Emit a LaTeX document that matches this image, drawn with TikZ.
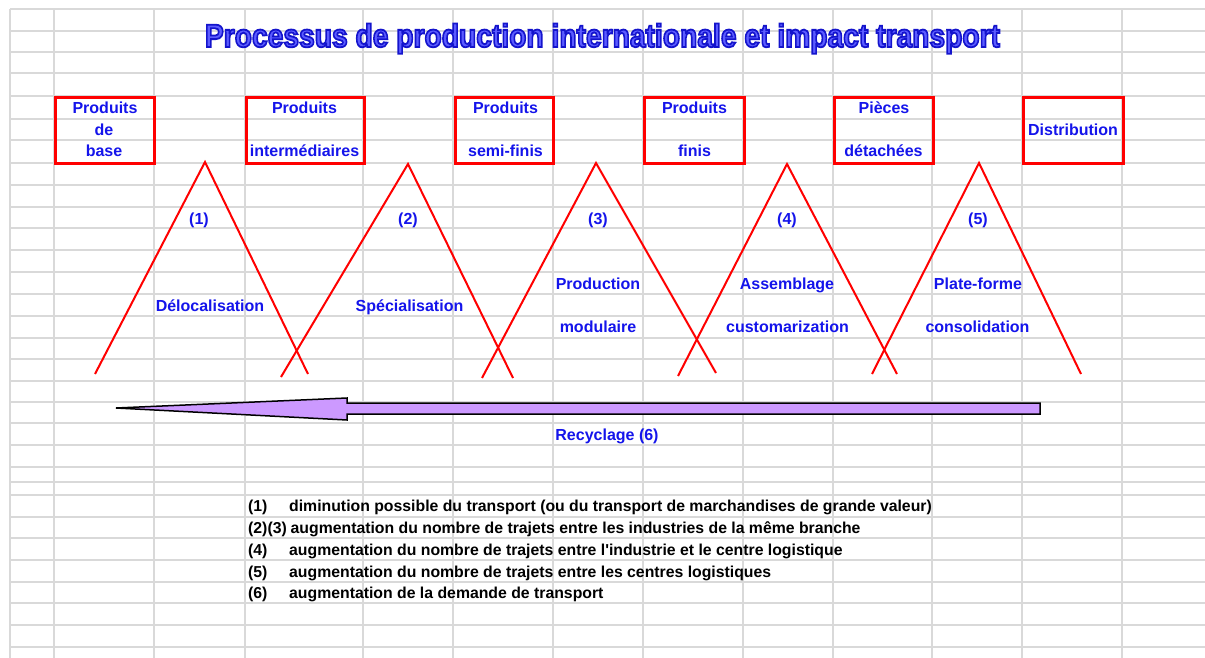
\documentclass[tikz,border=0pt]{standalone}
\usepackage{fontspec}
\setmainfont{Liberation Sans}
\usepackage{graphicx}
\definecolor{gridgray}{RGB}{217,217,217}
\definecolor{boxred}{RGB}{255,0,0}
\definecolor{labelblue}{RGB}{20,20,235}
\definecolor{titlefill}{RGB}{92,92,255}
\definecolor{arrowfill}{RGB}{204,153,255}
\newcommand\outlinedtitle[1]{{\color{titlefill}\special{pdf:code q 2 Tr 0.55 w 0.08 0.08 0.8 RG}#1\special{pdf:code Q}}}
\tikzset{
  gridline/.style={draw=gridgray, line width=1.3pt},
  stagebox/.style={draw=boxred, line width=2.6pt, inner sep=0pt, anchor=north west, minimum height=66pt},
  lbl/.style={text=labelblue, font=\fontsize{16}{18}\selectfont\bfseries, inner sep=0pt, anchor=base},
  legendtxt/.style={text=black, font=\fontsize{15.8}{18}\selectfont\bfseries, inner sep=0pt, anchor=base west},
  tri/.style={draw=boxred, line width=2pt},
  recycle/.style={fill=arrowfill, draw=black, line width=1.5pt, line join=miter}
}
\begin{document}
\begin{tikzpicture}[x=1pt,y=-1pt]
\useasboundingbox (0,0) rectangle (1205,658);
\fill[white] (0,0) rectangle (1205,658);
% spreadsheet grid
\foreach \gx in {10,54,154,245,363,453,553,643,743,833,932,1022,1122}
  \draw[gridline] (\gx,9) -- (\gx,658);
\foreach \gy in {9,31,52,73,96,119,140,163,185,207,228,250,272,294,316,338,359,381,402,423,445,467,482,495,517,538,560,582,603,625,647}
  \draw[gridline] (10,\gy) -- (1205,\gy);

% title
\node[inner sep=0pt, anchor=base] (title) at (602.5,47)
  {\resizebox{795pt}{23.5pt}{\outlinedtitle{\bfseries Processus de production internationale et impact transport}}};

% recycling arrow
\coordinate (rtip) at (116,408);
\coordinate (rend) at (1040,408);
\draw[recycle] (rtip) -- (347,398) -- (347,403) -- (1040,403) -- (1040,414) -- (347,414) -- (347,420) -- cycle;
\node[lbl] (recy) at (607,440) {Recyclage (6)};

% stage boxes
\node[stagebox, minimum width=99pt] (b1) at (54,96) {};
\node[stagebox, minimum width=118pt] (b2) at (245,96) {};
\node[stagebox, minimum width=98pt] (b3) at (454,96) {};
\node[stagebox, minimum width=100pt] (b4) at (643,96) {};
\node[stagebox, minimum width=99pt] (b5) at (833,96) {};
\node[stagebox, minimum width=100pt] (b6) at (1022,96) {};

\node[lbl] (b1a) at (105,114) {Produits};
\node[lbl] (b1b) at (104,136) {de};
\node[lbl] (b1c) at (104,157) {base};
\node[lbl] (b2a) at (304.5,114) {Produits};
\node[lbl] (b2c) at (304.5,157) {interm\'ediaires};
\node[lbl] (b3a) at (505.5,114) {Produits};
\node[lbl] (b3c) at (505.5,157) {semi-finis};
\node[lbl] (b4a) at (694.5,114) {Produits};
\node[lbl] (b4c) at (694.5,157) {finis};
\node[lbl] (b5a) at (884,114) {Pi\`eces};
\node[lbl] (b5c) at (883.5,157) {d\'etach\'ees};
\node[lbl] (b6b) at (1073,136) {Distribution};

% triangles
\coordinate (t1l) at (95,374);  \coordinate (t1a) at (205,162); \coordinate (t1r) at (308,374);
\coordinate (t2l) at (281,377); \coordinate (t2a) at (408,164); \coordinate (t2r) at (513,378);
\coordinate (t3l) at (482,378); \coordinate (t3a) at (596,163); \coordinate (t3r) at (716,373);
\coordinate (t4l) at (678,376); \coordinate (t4a) at (787,164); \coordinate (t4r) at (897,374);
\coordinate (t5l) at (872,374); \coordinate (t5a) at (979,163); \coordinate (t5r) at (1081,374);
\foreach \i in {1,...,5}
  \draw[tri] (t\i l) -- (t\i a) -- (t\i r);

% triangle labels
\node[lbl] (n1) at (199,224) {(1)};
\node[lbl] (n2) at (408,224) {(2)};
\node[lbl] (n3) at (598,224) {(3)};
\node[lbl] (n4) at (787,224) {(4)};
\node[lbl] (n5) at (978,224) {(5)};
\node[lbl] (s1) at (210,311) {D\'elocalisation};
\node[lbl] (s2) at (409.5,311) {Sp\'ecialisation};
\node[lbl] (s3a) at (598,289) {Production};
\node[lbl] (s3b) at (598,332) {modulaire};
\node[lbl] (s4a) at (787,289) {Assemblage};
\node[lbl] (s4b) at (787.5,332) {customarization};
\node[lbl] (s5a) at (978,289) {Plate-forme};
\node[lbl] (s5b) at (977.5,332) {consolidation};

% legend
\node[legendtxt] (k1) at (248,511) {(1)};
\node[legendtxt] (d1) at (289,511) {diminution possible du transport (ou du transport de marchandises de grande valeur)};
\node[legendtxt] (d2) at (248,533) {(2)(3)\kern-0.5pt\ augmentation du nombre de trajets entre les industries de la m\^eme branche};
\node[legendtxt] (k4) at (248,555) {(4)};
\node[legendtxt] (d4) at (289,555) {augmentation du nombre de trajets entre l\textquotesingle industrie et le centre logistique};
\node[legendtxt] (k5) at (248,577) {(5)};
\node[legendtxt] (d5) at (289,577) {augmentation du nombre de trajets entre les centres logistiques};
\node[legendtxt] (k6) at (248,598) {(6)};
\node[legendtxt] (d6) at (289,598) {augmentation de la demande de transport};
\end{tikzpicture}
\end{document}
